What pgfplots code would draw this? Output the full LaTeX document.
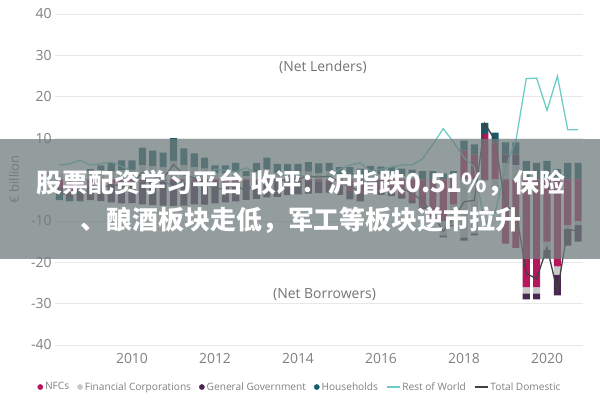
\documentclass[border=0pt]{standalone}
\usepackage{pgfplots}
\pgfplotsset{compat=1.18}
\usepackage{pgfplotstable}
\usepackage{fontspec}
\setmainfont{Open Sans}
\newfontfamily\cjk{Noto Sans CJK SC}
\definecolor{nfc}{RGB}{182,22,92}
\definecolor{fin}{RGB}{200,200,200}
\definecolor{gov}{RGB}{74,38,82}
\definecolor{hh}{RGB}{22,92,108}
\definecolor{row}{RGB}{108,204,198}
\definecolor{tot}{RGB}{64,64,64}
\definecolor{txt}{RGB}{128,128,128}
\definecolor{banner}{RGB}{112,124,124}

\pgfplotstableread{
t NFC FC GG HH RoW TD
2008.25 -2.0 1.5 -1.5 -1.5 3.5 -3.5
2008.50 -2.5 1.8 -2.0 -0.8 3.8 -3.5
2008.75 -2.2 2.0 -2.8 -0.3 4.6 -3.3
2009.00 -1.5 2.0 -3.5 0.5 3.5 -2.5
2009.25 -1.2 2.2 -4.0 1.2 3.8 -1.8
2009.50 -1.0 2.0 -4.5 2.0 4.2 -1.5
2009.75 -0.8 2.2 -5.0 2.4 3.2 -1.2
2010.00 -0.5 2.3 -5.2 2.3 2.0 -1.1
2010.25 -0.5 3.5 -5.5 4.2 0.5 1.7
2010.50 -0.6 3.2 -5.6 3.8 -0.5 0.8
2010.75 -0.5 3.0 -5.8 3.5 0.0 0.2
2011.00 -0.4 4.5 -6.0 5.5 -2.0 3.6
2011.25 -0.5 3.5 -5.8 4.0 -0.5 1.2
2011.50 -0.5 3.0 -5.5 3.3 0.5 0.3
2011.75 -0.6 2.6 -5.5 2.7 1.0 -0.8
2012.00 -0.6 1.6 -5.2 1.8 2.5 -2.4
2012.25 -0.5 1.5 -5.0 1.9 2.2 -2.1
2012.50 -0.5 1.8 -4.8 2.2 1.8 -1.3
2012.75 -0.4 0.8 -4.5 1.2 2.8 -2.9
2013.00 -0.4 1.8 -4.3 2.2 1.5 -0.7
2013.25 -0.3 2.5 -4.0 2.8 0.5 1.0
2013.50 -0.4 1.6 -3.8 2.2 1.2 -0.4
2013.75 -0.3 1.7 -3.5 2.1 1.0 0.0
2014.00 -0.3 1.7 -3.3 2.1 1.2 0.2
2014.25 -0.4 1.9 -3.0 2.3 0.5 0.8
2014.50 -0.5 1.5 -2.8 2.4 0.8 0.6
2014.75 -0.6 2.0 -2.6 2.0 0.5 0.8
2015.00 -1.5 1.2 -2.2 1.8 2.5 -0.7
2015.25 -2.8 1.0 -2.0 2.0 3.5 -1.8
2015.50 -3.5 1.0 -1.8 1.6 4.0 -2.7
2015.75 -2.0 1.5 -1.5 1.8 2.0 -0.2
2016.00 -2.5 1.2 -1.2 1.9 2.5 -0.6
2016.25 -3.0 1.0 -1.0 2.0 3.0 -1.0
2016.50 -3.8 0.8 -0.8 1.8 3.5 -2.0
2016.75 -5.0 0.5 -0.8 1.9 3.5 -3.4
2017.00 -6.5 0.0 -0.6 2.0 5.0 -5.1
2017.25 -9.0 -1.0 -0.5 2.0 8.5 -8.5
2017.50 -10.0 -3.5 -0.5 1.5 12.3 -12.5
2017.75 -6.0 -5.0 -0.3 2.0 9.0 -9.3
2018.00 7.0 -14.0 -0.8 2.4 5.3 -5.4
2018.25 6.0 -13.0 -0.5 2.5 3.0 -5.0
2018.50 11.0 0.0 -0.2 2.7 -11.0 13.5
2018.75 9.0 -1.5 -0.3 2.3 -8.0 9.5
2019.00 -15.5 4.0 2.0 3.0 3.0 -6.5
2019.25 -16.5 3.5 2.5 3.0 9.4 -7.5
2019.50 -26.0 -1.5 -1.5 4.5 24.4 -22.7
2019.75 -26.0 -1.5 -1.5 4.0 24.5 -24.0
2020.00 -15.0 -2.0 -2.0 4.5 16.7 -16.4
2020.25 -21.0 -2.0 -5.0 2.5 25.0 -27.0
2020.50 -11.0 -1.0 -4.0 4.0 12.0 -12.0
2020.75 -10.0 -1.0 -4.0 4.0 12.0 -12.5
}\data

\pgfplotsset{base/.style={at={(55bp,55bp)}, anchor=south west, scale only axis,
  width=528bp, height=331bp, xmin=2008.145, xmax=2020.867, ymin=-40, ymax=40},
  barstyle/.style={ybar stacked, bar width=0.17}}

\begin{document}
\begin{tikzpicture}
\useasboundingbox (0,0) rectangle (600bp,400bp);
% positive parts
\begin{axis}[base, barstyle,
  axis line style={draw=none}, major tick length=0pt,
  ymajorgrids, grid style={color=black!9, line width=0.7bp},
  xtick={2010,2012,...,2020}, ytick={-40,-30,...,40},
  x tick label style={/pgf/number format/1000 sep={}, yshift=-5bp},
  /pgf/number format/assume math mode=true,
  ticklabel style={font=\fontsize{14}{14}\selectfont, color=txt},
  ylabel={€ billion},
  ylabel style={at={(axis description cs:-0.0777,0.5)}, anchor=center,
    font=\fontsize{13}{13}\selectfont, color=txt}]
\addplot[fill=nfc, draw=none] table[x=t, y expr={max(\thisrow{NFC},0)}] {\data};
\addplot[fill=fin, draw=none] table[x=t, y expr={max(\thisrow{FC},0)}] {\data};
\addplot[fill=gov, draw=none] table[x=t, y expr={max(\thisrow{GG},0)}] {\data};
\addplot[fill=hh, draw=none] table[x=t, y expr={max(\thisrow{HH},0)}] {\data};
\end{axis}
% negative parts
\begin{axis}[base, barstyle, hide axis]
\addplot[fill=nfc, draw=none] table[x=t, y expr={min(\thisrow{NFC},0)}] {\data};
\addplot[fill=fin, draw=none] table[x=t, y expr={min(\thisrow{FC},0)}] {\data};
\addplot[fill=gov, draw=none] table[x=t, y expr={min(\thisrow{GG},0)}] {\data};
\addplot[fill=hh, draw=none] table[x=t, y expr={min(\thisrow{HH},0)}] {\data};
\end{axis}
% lines and legend
\begin{axis}[base, hide axis,
  legend style={at={(0.464,-0.127)}, anchor=center, draw=none, fill=none,
    font=\fontsize{10.2}{11}\selectfont, text=txt, inner sep=0pt,
    /tikz/every even column/.append style={column sep=6bp}},
  legend columns=-1, legend cell align=left]
\addlegendimage{legend image code/.code={\fill[nfc] (2.6bp,0bp) circle (2.6bp);}}
\addlegendentry{NFCs}
\addlegendimage{legend image code/.code={\fill[fin] (2.6bp,0bp) circle (2.6bp);}}
\addlegendentry{Financial Corporations}
\addlegendimage{legend image code/.code={\fill[gov] (2.6bp,0bp) circle (2.6bp);}}
\addlegendentry{General Government}
\addlegendimage{legend image code/.code={\fill[hh] (2.6bp,0bp) circle (2.6bp);}}
\addlegendentry{Households}
\addplot[row, line width=1.3bp, mark=none,
  legend image code/.code={\draw[row, line width=1.3bp] (0bp,0bp) -- (13bp,0bp);}]
  table[x=t, y=RoW] {\data};
\addlegendentry{Rest of World}
\addplot[tot, line width=1.3bp, mark=none,
  legend image code/.code={\draw[tot, line width=1.6bp] (0bp,0bp) -- (13bp,0bp);}]
  table[x=t, y=TD] {\data};
\addlegendentry{Total Domestic}
\node[font=\fontsize{14}{14}\selectfont, text=black!55] at (axis cs:2014.6,27.2) {(Net Lenders)};
\node[font=\fontsize{14}{14}\selectfont, text=black!55] at (axis cs:2014.64,-27.9) {(Net Borrowers)};
\end{axis}
% overlay banner
\fill[banner, opacity=0.75] (0bp,141bp) rectangle (600bp,261bp);
\node[text=white, font=\cjk\bfseries\fontsize{26}{26}\selectfont, inner sep=0pt] at (301bp,217bp) {股票配资学习平台 收评：沪指跌0.51\%，保险};
\node[text=white, font=\cjk\bfseries\fontsize{26}{26}\selectfont, inner sep=0pt] at (301bp,180bp) {、酿酒板块走低，军工等板块逆市拉升};
\end{tikzpicture}
\end{document}
